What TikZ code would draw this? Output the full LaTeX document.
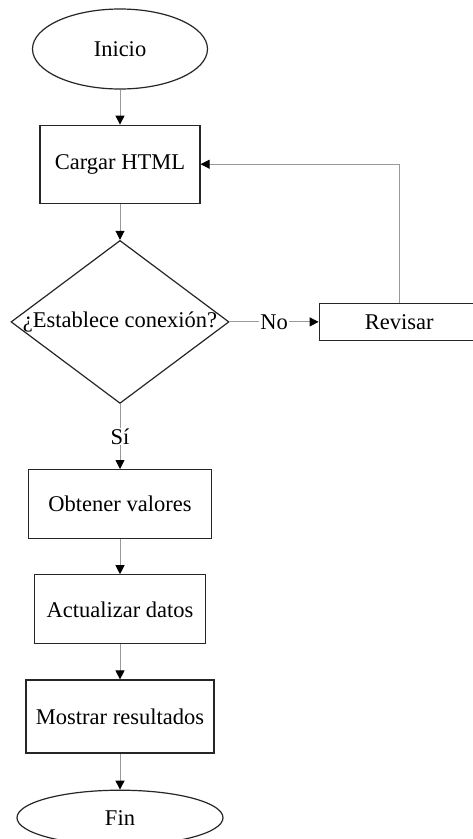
\documentclass[tikz,border=0pt]{standalone}
\usepackage{fontspec}
\setmainfont{Liberation Serif}
\usetikzlibrary{arrows.meta,positioning,shapes.geometric}

\begin{document}
\begin{tikzpicture}
    [x=1pt,y=1pt,
    font=\fontsize{22.5}{27}\selectfont,
    terminal/.style={ellipse,draw=black!85,line width=1.2pt,inner sep=0pt},
    process/.style={rectangle,draw=black!85,line width=1.2pt,inner sep=0pt,
    minimum height=69pt},
    decision/.style={diamond,draw=black!85,line width=1.2pt,inner sep=0pt,
    minimum width=218pt,minimum height=163pt},
    flow/.style={draw=black!40,line width=0.9pt,
    -{Triangle[length=9pt,width=9pt,color=black]}},
    tag/.style={fill=white,inner sep=1pt}]
    \fill[white] (0,0) rectangle (472,-839);
    \useasboundingbox (0,0) rectangle (472,-839);
    \node[terminal,minimum width=175pt,minimum height=80pt] (inicio) at (120,-49) {Inicio};
    \node[process,minimum width=160pt,minimum height=78pt] (cargar) [below=35pt of inicio] {Cargar HTML};
    \node[decision] (decide) [below=36pt of cargar] {};
    \node (pregunta) at (decide) {¿Establece conexión?};
    \node[process,minimum width=160pt,minimum height=37pt] (revisar) [right=89pt of decide] {Revisar};
    \node[process,minimum width=183pt] (obtener) [below=65pt of decide] {Obtener valores};
    \node[process,minimum width=171pt] (actualizar) [below=35pt of obtener] {Actualizar datos};
    \node[process,minimum width=188pt,minimum height=73pt] (mostrar) [below=35pt of actualizar] {Mostrar resultados};
    \node[terminal,minimum width=206pt,minimum height=55pt] (fin) [below=36pt of mostrar] {Fin};
    % connectors
    \draw[flow] (inicio) -- (cargar);
    \draw[flow] (cargar) -- (decide);
    \draw[flow] (decide) -- node[tag] (no) {No} (revisar);
    \draw[flow] (revisar) |- (cargar);
    \draw[flow] (decide) -- node[tag] (si) {Sí} (obtener);
    \draw[flow] (obtener) -- (actualizar);
    \draw[flow] (actualizar) -- (mostrar);
    \draw[flow] (mostrar) -- (fin);
\end{tikzpicture}
\end{document}
